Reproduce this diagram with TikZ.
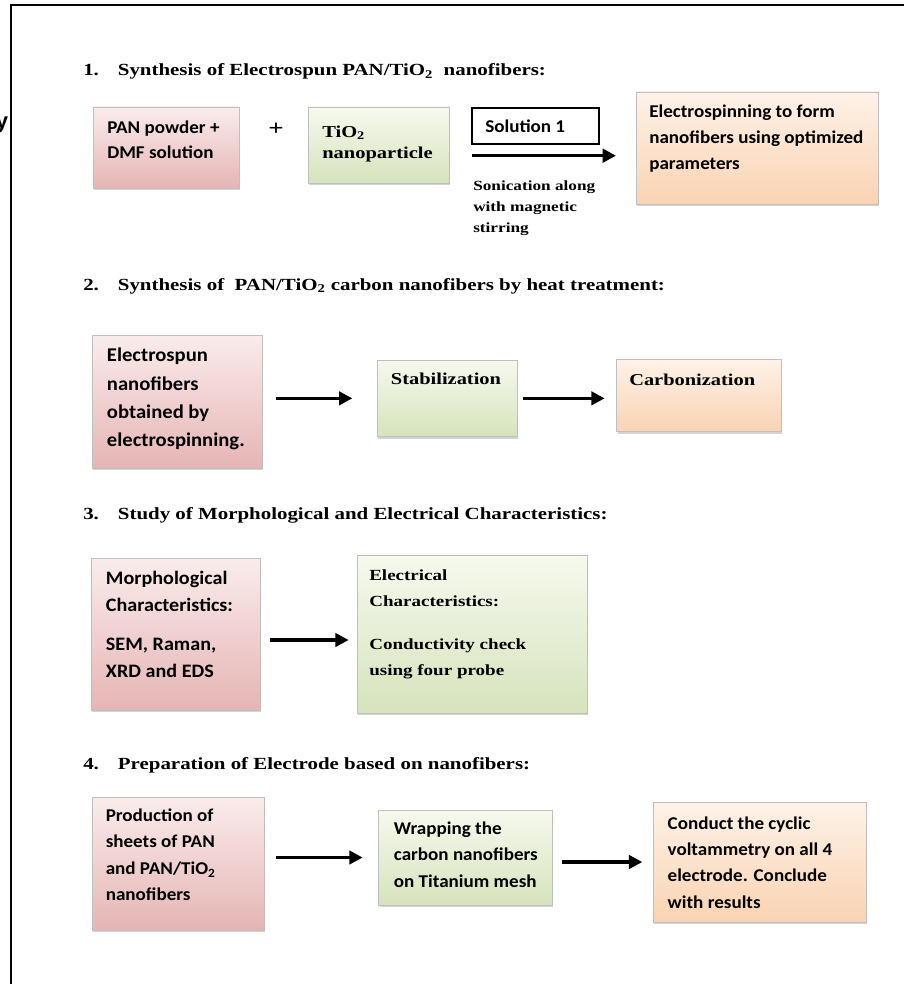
\documentclass[tikz,border=0pt]{standalone}
\usepackage{fontspec}
\setmainfont{Liberation Serif}
\newfontfamily\tnr[FakeStretch=1.23]{Liberation Serif}
\newfontfamily\carl[FakeStretch=1.06]{Carlito}
\newfontfamily\arl{Liberation Sans}
\usetikzlibrary{positioning,fit,shadows,arrows.meta}
\tikzset{>={Triangle[length=10pt,width=10pt]}}
\definecolor{pinktop}{RGB}{250,236,236}
\definecolor{pinkbot}{RGB}{229,181,180}
\definecolor{greentop}{RGB}{246,249,238}
\definecolor{greenbot}{RGB}{214,227,188}
\definecolor{orangetop}{RGB}{254,242,232}
\definecolor{orangebot}{RGB}{250,211,178}
\tikzset{
  box/.style={draw=black!25, line width=0.5pt, inner sep=0pt,
    drop shadow={shadow xshift=0.6pt, shadow yshift=-1.6pt, opacity=0.35}},
  pinkbox/.style={box, top color=pinktop, bottom color=pinkbot},
  greenbox/.style={box, top color=greentop, bottom color=greenbot},
  orangebox/.style={box, top color=orangetop, bottom color=orangebot},
  solbox/.style={draw, line width=0.8pt, inner sep=0pt, fill=white},
  txt/.style={anchor=north west, inner sep=0pt, align=left},
  head/.style={anchor=base west, inner sep=0pt, font=\tnr\bfseries\fontsize{12.75}{16}\selectfont},
  arr/.style={->, line width=2.5pt},
}
% first line of a box text starts one em below the node top
\newcommand*{\topln}{\rule{0pt}{1em}}
\newcommand*{\sect}[2]{\makebox[26pt][l]{#1}#2}

\begin{document}
\begin{tikzpicture}[x=0.75pt,y=-0.75pt]
\useasboundingbox (0,0) rectangle (904,984);
% Frame of the page
\draw[line width=1.5pt] (11,984) -- (11,5.5) -- (904,5.5);
\node[anchor=base east, inner sep=0pt, font=\arl\bfseries\fontsize{16.5}{16}\selectfont] (ycut) at (8.5,129) {y};

% Step 1: synthesis of the electrospun fibers
\node[head] (h1) at (83,76) {\sect{1.}{Synthesis of Electrospun PAN/TiO\textsubscript{2}\ \ nanofibers:}};
\node[pinkbox, fit={(93,107) (239,188)}] (pan) {};
\node[txt, font=\carl\bfseries\fontsize{13.5}{18.75}\selectfont] (pantxt) at (107,115) {\topln PAN powder +\\DMF solution};
\node[font=\tnr\bfseries\fontsize{16.5}{16}\selectfont, inner sep=0pt] (plus) at (276,129) {+};
\node[greenbox, fit={(308,107) (449,183)}] (tio) {};
\node[txt, font=\tnr\bfseries\fontsize{12.5}{15.75}\selectfont] (tiotxt) at (322,120.3) {\topln TiO\textsubscript{2}\\nanoparticle};
\node[solbox, fit={(472,108) (599,144)}] (sol) {};
\node[anchor=base west, inner sep=0pt, font=\carl\bfseries\fontsize{13.5}{16}\selectfont] (soltxt) at (485,132.3) {Solution 1};
\coordinate (sonA) at (472,155.7);
\coordinate (sonB) at (616,155.7);
\draw[arr] (sonA) -- (sonB);
\node[txt, font=\tnr\bfseries\fontsize{10.5}{15.75}\selectfont] (son) at (473,176) {\topln Sonication along\\with magnetic\\stirring};
\node[orangebox, fit={(636,92) (878,204)}] (spin) {};
\node[txt, font=\carl\bfseries\fontsize{13.5}{19.5}\selectfont] (spintxt) at (649,99) {\topln Electrospinning to form\\nanofibers using optimized\\parameters};

% Step 2: heat treatment
\node[head] (h2) at (83,290) {\sect{2.}{Synthesis of\ \ PAN/TiO\textsubscript{2} carbon nanofibers by heat treatment:}};
\node[pinkbox, fit={(92,335) (262,468)}] (fib) {};
\node[txt, font=\carl\bfseries\fontsize{14.6}{21.2}\selectfont] (fibtxt) at (106.7,342.2) {\topln Electrospun\\nanofibers\\obtained by\\electrospinning.};
\node[greenbox, fit={(377.5,360) (517.6,436.7)}] (stab) {};
\node[anchor=base west, inner sep=0pt, font=\tnr\bfseries\fontsize{12.45}{15}\selectfont] (stabtxt) at (390.7,384.3) {Stabilization};
\node[orangebox, fit={(616.7,359.3) (781,431.7)}] (carb) {};
\node[anchor=base west, inner sep=0pt, font=\tnr\bfseries\fontsize{12.45}{15}\selectfont] (carbtxt) at (629,385) {Carbonization};
\draw[arr, shorten <=10.1pt, shorten >=18.6pt] (fib.east |- stab.west) -- (stab.west);
\draw[arr, shorten <=4pt, shorten >=8.8pt] (stab.east) -- (carb.west |- stab.east);

% Step 3: characterisation
\node[head] (h3) at (83,519) {\sect{3.}{Study of Morphological and Electrical Characteristics:}};
\node[pinkbox, fit={(91,558) (260,710)}] (morph) {};
\node[txt, font=\carl\bfseries\fontsize{14.25}{20.5}\selectfont] (morphtxt) at (105.7,565.3) {\topln Morphological\\Characteristics:\\[8.5pt]SEM, Raman,\\XRD and EDS};
\node[greenbox, fit={(357,555) (587,713)}] (elec) {};
\node[txt, font=\tnr\bfseries\fontsize{11.6}{19.5}\selectfont] (electxt) at (369,564.5) {\topln Electrical\\Characteristics:\\[12.75pt]Conductivity check\\using four probe};
\draw[arr, shorten <=7.5pt, shorten >=6pt] ([yshift=-4.5pt]morph.east) -- ([yshift=-4.5pt]elec.west);

% Step 4: electrode
\node[head] (h4) at (83,769) {\sect{4.}{Preparation of Electrode based on nanofibers:}};
\node[pinkbox, fit={(92,797) (264,930)}] (sheet) {};
\node[txt, font=\carl\bfseries\fontsize{13.5}{19.9}\selectfont] (sheettxt) at (105.5,803) {\topln Production of\\sheets of PAN\\and PAN/TiO\textsubscript{2}\\nanofibers};
\node[greenbox, fit={(378.7,810) (552,905)}] (wrap) {};
\node[txt, font=\carl\bfseries\fontsize{13.5}{19.9}\selectfont] (wraptxt) at (393.6,816) {\topln Wrapping the\\carbon nanofibers\\on Titanium mesh};
\node[orangebox, fit={(653,802) (866,922)}] (cv) {};
\node[txt, font=\carl\bfseries\fontsize{13.5}{19.7}\selectfont] (cvtxt) at (667.4,811) {\topln Conduct the cyclic\\voltammetry on all 4\\electrode. Conclude\\with results};
\draw[arr, shorten <=8.6pt, shorten >=11.8pt] (sheet.east |- wrap.west) -- (wrap.west);
\draw[arr, shorten <=7.5pt, shorten >=7.8pt] (wrap.east |- cv.west) -- (cv.west);
\end{tikzpicture}
\end{document}
